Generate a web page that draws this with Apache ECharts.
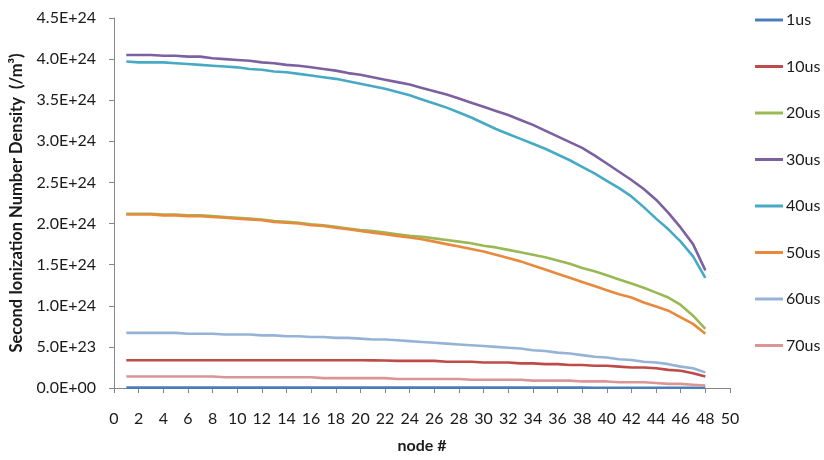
<!DOCTYPE html>
<html>
<head>
<meta charset="utf-8">
<script src="https://cdn.jsdelivr.net/npm/echarts@6/dist/echarts.min.js"></script>
<style>
html,body{margin:0;padding:0;background:#fff;}
#chart{width:824px;height:460px;}
</style>
</head>
<body>
<div id="chart"></div>
<script>
// Values in units of 1E+24 /m^3, nodes 1..48
const UNIT = 1e24;
const nodes = [1,2,3,4,5,6,7,8,9,10,11,12,13,14,15,16,17,18,19,20,21,22,23,24,25,26,27,28,29,30,31,32,33,34,35,36,37,38,39,40,41,42,43,44,45,46,47,48];
const seriesNames = ['1us','10us','20us','30us','40us','50us','60us','70us'];
const s1us  = [0.004,0.004,0.004,0.004,0.004,0.004,0.004,0.004,0.004,0.004,0.004,0.004,0.004,0.004,0.004,0.004,0.004,0.004,0.004,0.004,0.004,0.004,0.004,0.004,0.004,0.004,0.004,0.004,0.004,0.004,0.004,0.004,0.004,0.004,0.004,0.004,0.004,0.004,0.003,0.003,0.003,0.003,0.003,0.003,0.003,0.003,0.003,0.002];
const s10us = [0.337,0.337,0.337,0.337,0.337,0.337,0.337,0.337,0.337,0.337,0.337,0.337,0.337,0.337,0.337,0.337,0.337,0.337,0.337,0.337,0.336,0.335,0.33,0.33,0.33,0.33,0.32,0.32,0.32,0.31,0.31,0.31,0.30,0.30,0.29,0.29,0.28,0.28,0.27,0.27,0.26,0.25,0.25,0.24,0.22,0.21,0.18,0.14];
const s20us = [2.12,2.12,2.12,2.11,2.11,2.10,2.10,2.09,2.08,2.07,2.06,2.05,2.03,2.02,2.01,1.99,1.98,1.96,1.94,1.92,1.91,1.89,1.87,1.85,1.84,1.82,1.80,1.78,1.76,1.73,1.71,1.68,1.65,1.62,1.59,1.55,1.51,1.46,1.42,1.37,1.32,1.27,1.22,1.16,1.10,1.01,0.88,0.72];
const s30us = [4.05,4.05,4.05,4.04,4.04,4.03,4.03,4.01,4.00,3.99,3.98,3.96,3.95,3.93,3.92,3.90,3.88,3.86,3.83,3.81,3.78,3.75,3.72,3.69,3.65,3.61,3.57,3.52,3.47,3.42,3.37,3.32,3.26,3.20,3.13,3.06,2.99,2.92,2.83,2.73,2.63,2.53,2.42,2.29,2.13,1.95,1.75,1.43];
const s40us = [3.97,3.96,3.96,3.96,3.95,3.94,3.93,3.92,3.91,3.90,3.88,3.87,3.85,3.84,3.82,3.80,3.78,3.76,3.73,3.70,3.67,3.64,3.60,3.56,3.51,3.46,3.41,3.35,3.29,3.22,3.15,3.09,3.03,2.97,2.91,2.84,2.77,2.69,2.61,2.52,2.43,2.33,2.20,2.06,1.93,1.78,1.60,1.34];
const s50us = [2.11,2.11,2.11,2.10,2.10,2.09,2.09,2.08,2.07,2.06,2.05,2.04,2.02,2.01,2.00,1.98,1.97,1.95,1.93,1.91,1.89,1.87,1.85,1.83,1.81,1.78,1.75,1.72,1.69,1.66,1.62,1.58,1.54,1.49,1.44,1.39,1.34,1.29,1.24,1.19,1.14,1.10,1.04,0.99,0.94,0.86,0.78,0.66];
const s60us = [0.67,0.67,0.67,0.67,0.67,0.66,0.66,0.66,0.65,0.65,0.65,0.64,0.64,0.63,0.63,0.62,0.62,0.61,0.61,0.60,0.59,0.59,0.58,0.57,0.56,0.55,0.54,0.53,0.52,0.51,0.50,0.49,0.48,0.46,0.45,0.43,0.42,0.40,0.38,0.37,0.35,0.34,0.32,0.31,0.29,0.26,0.24,0.19];
const s70us = [0.14,0.14,0.14,0.14,0.14,0.14,0.14,0.14,0.13,0.13,0.13,0.13,0.13,0.13,0.13,0.13,0.12,0.12,0.12,0.12,0.12,0.12,0.11,0.11,0.11,0.11,0.11,0.11,0.10,0.10,0.10,0.10,0.10,0.09,0.09,0.09,0.09,0.08,0.08,0.08,0.07,0.07,0.07,0.06,0.05,0.05,0.04,0.03];
const seriesValues = [s1us,s10us,s20us,s30us,s40us,s50us,s60us,s70us];
const colors = ['#4A7EBB','#BE4B48','#98B954','#7D60A0','#46AAC5','#E8893D','#95B3D7','#D99694'];

const FONT = 'Lato, "Open Sans", sans-serif';

function fmtExp(v){
  if (v === 0) return '0.0E+00';
  const s = v.toExponential(1).toUpperCase();
  const m = s.match(/^(.*)E([+-])(\d+)$/);
  return m[1] + 'E' + m[2] + (m[3].length < 2 ? '0' + m[3] : m[3]);
}

const chart = echarts.init(document.getElementById('chart'), null, {renderer:'canvas'});
chart.setOption({
  backgroundColor:'#fff',
  animation:false,
  color: colors,
  grid:{left:101, right:94, top:18, bottom:72, containLabel:false},
  legend:{
    orient:'vertical',
    left:750, top:7,
    icon:'rect',
    itemWidth:28, itemHeight:3,
    itemGap:30.5,
    textStyle:{fontFamily:FONT, fontSize:16, color:'#1a1a1a', lineHeight:16, padding:[0,0,0,-2]},
    data: seriesNames
  },
  xAxis:{
    type:'value', min:0, max:50, interval:2,
    name:'node #', nameLocation:'middle', nameGap:50,
    nameTextStyle:{fontFamily:FONT, fontSize:16, fontWeight:'bold', color:'#1a1a1a'},
    axisLine:{show:true, lineStyle:{color:'#868686', width:1}},
    axisTick:{show:true, length:5, lineStyle:{color:'#868686'}},
    axisLabel:{fontFamily:FONT, fontSize:16, color:'#1a1a1a', margin:23},
    splitLine:{show:false}
  },
  yAxis:{
    type:'value', min:0, max:4.5e24, interval:5e23,
    name:'Second Ionization Number Density  (/m³)', nameLocation:'middle', nameGap:89,
    nameTextStyle:{fontFamily:FONT, fontSize:16.5, fontWeight:'bold', color:'#1a1a1a'},
    axisLine:{show:true, lineStyle:{color:'#868686', width:1}},
    axisTick:{show:true, length:5, lineStyle:{color:'#868686'}},
    axisLabel:{fontFamily:FONT, fontSize:16, color:'#1a1a1a', margin:18, formatter:fmtExp},
    splitLine:{show:false}
  },
  series: seriesNames.map((name,i)=>({
    name:name, type:'line', showSymbol:false, symbol:'none',
    lineStyle:{width:2.6, color:colors[i]},
    itemStyle:{color:colors[i]},
    data: nodes.map((n,j)=>[n, seriesValues[i][j]*UNIT])
  }))
});
</script>
</body>
</html>
